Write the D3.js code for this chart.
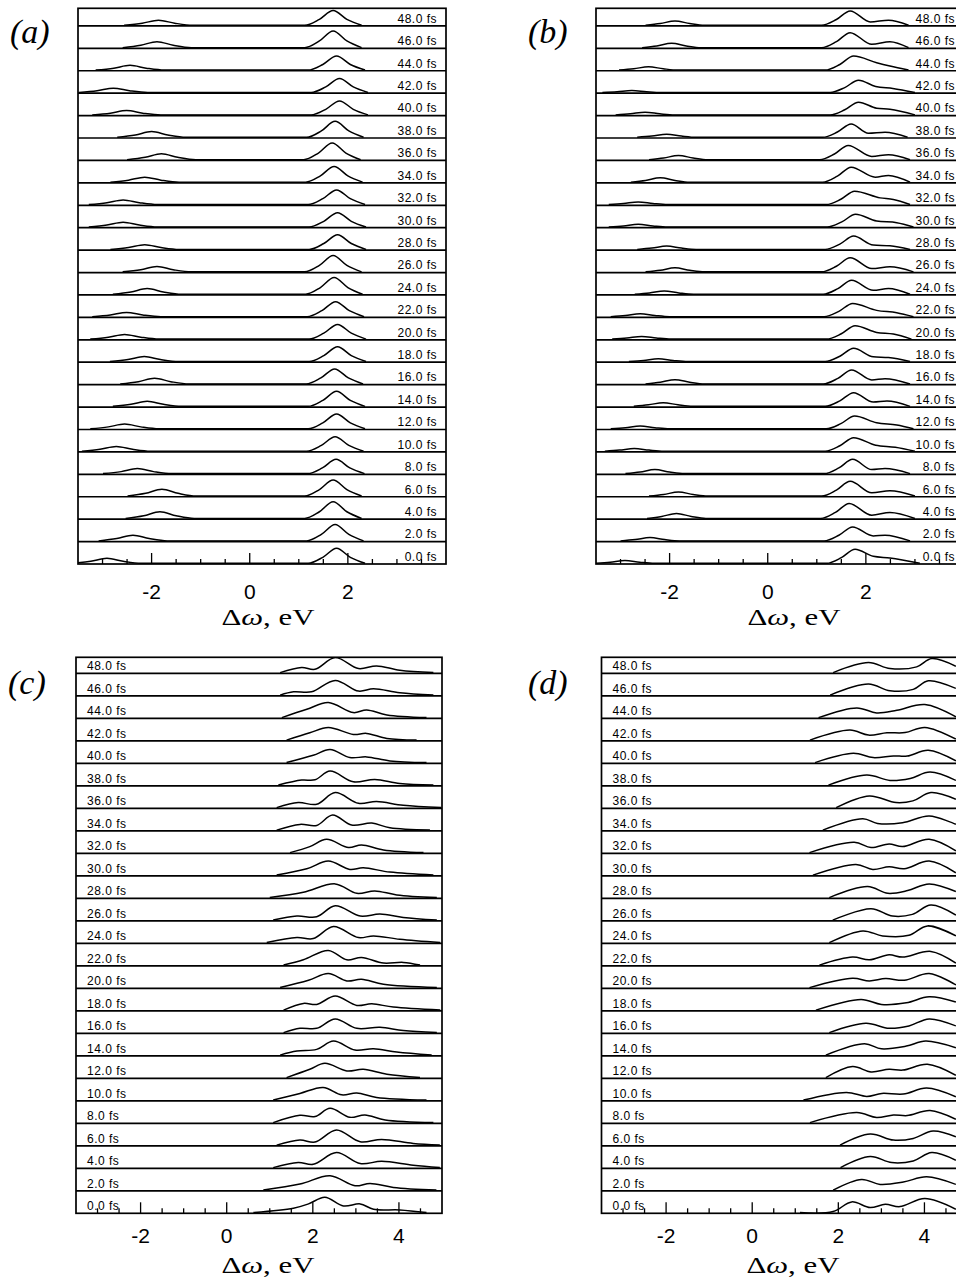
<!DOCTYPE html>
<html><head><meta charset="utf-8">
<script src="https://cdn.jsdelivr.net/npm/d3@7"></script>
<style>body{margin:0;background:#fff}svg{display:block}</style>
</head><body>
<svg id="chart" width="956" height="1281"></svg>
<script>
// ---------- data ----------
const times = [0,2,4,6,8,10,12,14,16,18,20,22,24,26,28,30,32,34,36,38,40,42,44,46,48];
const majorTicksAB = [-2,0,2];
const minorTicksAB = [-3,-2.5,-1.5,-1,-0.5,0.5,1,1.5,2.5,3,3.5];
const majorTicksCD = [-2,0,2,4];
const minorTicksCD = [-3,-2.5,-1.5,-1,-0.5,0.5,1,1.5,2.5,3,3.5,4.5];
const axisTitle = ["Δ","ω",", ","eV"];

// each spectrum: [Δω (eV), amplitude] key points, one per time (0 fs ... 48 fs)
const spectraA = [
 [[-3.61,0],[-3.24,2],[-2.91,5],[-2.58,2],[-2.21,0],[1.19,0],[1.49,6],[1.77,15],[2.05,6],[2.35,0]],
 [[-3.08,0],[-2.71,2.3],[-2.38,5.7],[-2.05,2.3],[-1.68,0],[1.16,0],[1.46,6.5],[1.74,16.3],[2.02,6.5],[2.32,0]],
 [[-2.53,0],[-2.16,2.7],[-1.83,6.7],[-1.50,2.7],[-1.13,0],[1.12,0],[1.42,6.7],[1.70,16.7],[1.98,6.7],[2.28,0]],
 [[-2.49,0],[-2.12,2.7],[-1.79,6.7],[-1.46,2.7],[-1.09,0],[1.12,0],[1.42,6.4],[1.70,16],[1.98,6.4],[2.28,0]],
 [[-2.99,0],[-2.62,2],[-2.29,5],[-1.96,2],[-1.59,0],[1.18,0],[1.48,5.7],[1.76,14.3],[2.04,5.7],[2.34,0]],
 [[-3.42,0],[-3.05,1.9],[-2.72,4.7],[-2.39,1.9],[-2.02,0],[1.16,0],[1.46,5.8],[1.74,14.5],[2.02,5.8],[2.32,0]],
 [[-3.25,0],[-2.88,1.9],[-2.55,4.7],[-2.22,1.9],[-1.85,0],[1.19,0],[1.49,5.9],[1.77,14.7],[2.05,5.9],[2.35,0]],
 [[-2.79,0],[-2.42,2],[-2.09,5],[-1.76,2],[-1.39,0],[1.19,0],[1.49,6],[1.77,15],[2.05,6],[2.35,0]],
 [[-2.64,0],[-2.27,2.3],[-1.94,5.7],[-1.61,2.3],[-1.24,0],[1.15,0],[1.45,6],[1.73,15],[2.01,6],[2.31,0]],
 [[-2.85,0],[-2.48,2],[-2.15,5],[-1.82,2],[-1.45,0],[1.21,0],[1.51,5.9],[1.79,14.7],[2.07,5.9],[2.37,0]],
 [[-3.25,0],[-2.88,1.9],[-2.55,4.7],[-2.22,1.9],[-1.85,0],[1.21,0],[1.51,5.9],[1.79,14.7],[2.07,5.9],[2.37,0]],
 [[-3.21,0],[-2.84,1.7],[-2.51,4.3],[-2.18,1.7],[-1.81,0],[1.17,0],[1.47,6],[1.75,15],[2.03,6],[2.33,0]],
 [[-2.79,0],[-2.42,2.3],[-2.09,5.7],[-1.76,2.3],[-1.39,0],[1.14,0],[1.44,6.7],[1.72,16.7],[2.00,6.7],[2.30,0]],
 [[-2.59,0],[-2.22,2.1],[-1.89,5.3],[-1.56,2.1],[-1.19,0],[1.12,0],[1.42,6.5],[1.70,16.3],[1.98,6.5],[2.28,0]],
 [[-2.84,0],[-2.47,1.9],[-2.14,4.7],[-1.81,1.9],[-1.44,0],[1.21,0],[1.51,5.9],[1.79,14.7],[2.07,5.9],[2.37,0]],
 [[-3.28,0],[-2.91,1.9],[-2.58,4.7],[-2.25,1.9],[-1.88,0],[1.21,0],[1.51,5.7],[1.79,14.3],[2.07,5.7],[2.37,0]],
 [[-3.28,0],[-2.91,1.9],[-2.58,4.7],[-2.25,1.9],[-1.88,0],[1.19,0],[1.49,5.9],[1.77,14.7],[2.05,5.9],[2.35,0]],
 [[-2.84,0],[-2.47,2],[-2.14,5],[-1.81,2],[-1.44,0],[1.14,0],[1.44,6.3],[1.72,15.7],[2.00,6.3],[2.30,0]],
 [[-2.50,0],[-2.13,2.4],[-1.80,6],[-1.47,2.4],[-1.10,0],[1.10,0],[1.40,6.7],[1.68,16.7],[1.96,6.7],[2.26,0]],
 [[-2.70,0],[-2.33,2.3],[-2.00,5.7],[-1.67,2.3],[-1.30,0],[1.16,0],[1.46,6.4],[1.74,16],[2.02,6.4],[2.32,0]],
 [[-3.21,0],[-2.84,1.7],[-2.51,4.3],[-2.18,1.7],[-1.81,0],[1.25,0],[1.55,5.6],[1.83,14],[2.11,5.6],[2.41,0]],
 [[-3.48,0],[-3.11,1.7],[-2.78,4.3],[-2.45,1.7],[-2.08,0],[1.25,0],[1.55,5.6],[1.83,14],[2.11,5.6],[2.41,0]],
 [[-3.14,0],[-2.77,1.9],[-2.44,4.7],[-2.11,1.9],[-1.74,0],[1.19,0],[1.49,5.6],[1.77,14],[2.05,5.6],[2.35,0]],
 [[-2.59,0],[-2.22,2.4],[-1.89,6],[-1.56,2.4],[-1.19,0],[1.12,0],[1.42,6.7],[1.70,16.7],[1.98,6.7],[2.28,0]],
 [[-2.56,0],[-2.19,2],[-1.86,5],[-1.53,2],[-1.16,0],[1.12,0],[1.42,5.9],[1.70,14.7],[1.98,5.9],[2.28,0]]
];
const spectraB = [
 [[-3.51,0],[-3.21,1.1],[-2.91,2.7],[-2.61,1.1],[-2.31,0],[1.20,0],[1.50,5.6],[1.78,14],[2.15,7],[2.49,5.3],[3.10,0]],
 [[-3.00,0],[-2.70,1.3],[-2.40,3.3],[-2.10,1.3],[-1.80,0],[1.15,0],[1.45,5.6],[1.73,14],[2.15,5],[2.39,5.7],[2.90,0]],
 [[-2.46,0],[-2.16,2],[-1.86,5],[-1.56,2],[-1.26,0],[1.08,0],[1.38,6],[1.66,15],[2.12,3.3],[2.49,6],[3.00,0]],
 [[-2.42,0],[-2.12,1.6],[-1.82,4],[-1.52,1.6],[-1.22,0],[1.10,0],[1.40,5.9],[1.68,14.7],[2.12,3.3],[2.49,5.3],[3.00,0]],
 [[-2.90,0],[-2.60,1.6],[-2.30,4],[-2.00,1.6],[-1.70,0],[1.15,0],[1.45,5.7],[1.73,14.3],[2.12,4],[2.39,5],[2.90,0]],
 [[-3.32,0],[-3.02,1.1],[-2.72,2.7],[-2.42,1.1],[-2.12,0],[1.17,0],[1.47,5.4],[1.75,13.5],[2.20,6],[2.60,4],[3.00,0]],
 [[-3.20,0],[-2.90,1.1],[-2.60,2.7],[-2.30,1.1],[-2.00,0],[1.19,0],[1.49,5.1],[1.77,12.7],[2.22,6],[2.63,3.7],[2.97,0]],
 [[-2.73,0],[-2.43,1.5],[-2.13,3.7],[-1.83,1.5],[-1.53,0],[1.17,0],[1.47,5.5],[1.75,13.7],[2.15,4.3],[2.43,5.3],[2.90,0]],
 [[-2.49,0],[-2.19,1.7],[-1.89,4.3],[-1.59,1.7],[-1.29,0],[1.13,0],[1.43,5.6],[1.71,14],[2.12,4],[2.39,5.3],[2.90,0]],
 [[-2.83,0],[-2.53,1.1],[-2.23,2.7],[-1.93,1.1],[-1.63,0],[1.17,0],[1.47,5.3],[1.75,13.3],[2.15,4.7],[2.46,4],[2.90,0]],
 [[-3.17,0],[-2.87,1.1],[-2.57,2.7],[-2.27,1.1],[-1.97,0],[1.20,0],[1.50,5.3],[1.78,13.3],[2.22,6.7],[2.56,5],[2.93,0]],
 [[-3.20,0],[-2.90,1.2],[-2.60,3],[-2.30,1.2],[-2.00,0],[1.15,0],[1.45,5.3],[1.73,13.3],[2.22,6.3],[2.63,4],[2.97,0]],
 [[-2.71,0],[-2.41,1.3],[-2.11,3.3],[-1.81,1.3],[-1.51,0],[1.13,0],[1.43,5.6],[1.71,14],[2.15,4],[2.46,5.7],[2.90,0]],
 [[-2.49,0],[-2.19,1.6],[-1.89,4],[-1.59,1.6],[-1.29,0],[1.10,0],[1.40,5.6],[1.68,14],[2.12,3.3],[2.49,5],[2.97,0]],
 [[-2.66,0],[-2.36,1.3],[-2.06,3.3],[-1.76,1.3],[-1.46,0],[1.17,0],[1.47,5.3],[1.75,13.3],[2.15,4.3],[2.49,3.7],[2.90,0]],
 [[-3.24,0],[-2.94,1.1],[-2.64,2.7],[-2.34,1.1],[-2.04,0],[1.21,0],[1.51,5.1],[1.79,12.7],[2.22,6],[2.63,4.3],[2.97,0]],
 [[-3.24,0],[-2.94,1.1],[-2.64,2.7],[-2.34,1.1],[-2.04,0],[1.19,0],[1.49,5.3],[1.77,13.3],[2.29,6.7],[2.56,5],[2.90,0]],
 [[-2.79,0],[-2.49,1.7],[-2.19,4.3],[-1.89,1.7],[-1.59,0],[1.12,0],[1.42,6],[1.70,15],[2.19,5],[2.46,6.7],[2.90,0]],
 [[-2.42,0],[-2.12,1.7],[-1.82,4.3],[-1.52,1.7],[-1.22,0],[1.06,0],[1.36,5.7],[1.64,14.3],[2.12,3.3],[2.46,5],[2.90,0]],
 [[-2.66,0],[-2.36,1.2],[-2.06,3],[-1.76,1.2],[-1.46,0],[1.12,0],[1.42,5.3],[1.70,13.3],[2.05,4],[2.39,5],[2.85,0]],
 [[-3.10,0],[-2.80,1.1],[-2.50,2.7],[-2.20,1.1],[-1.90,0],[1.27,0],[1.57,5.1],[1.85,12.7],[2.22,6.7],[2.49,5.7],[3.00,0]],
 [[-3.37,0],[-3.07,0.8],[-2.77,2],[-2.47,0.8],[-2.17,0],[1.27,0],[1.57,4.9],[1.85,12.3],[2.20,6],[2.55,4],[3.00,0]],
 [[-3.03,0],[-2.73,1.3],[-2.43,3.3],[-2.13,1.3],[-1.83,0],[1.17,0],[1.47,5.6],[1.75,14],[2.22,7.3],[2.49,4],[2.87,0]],
 [[-2.56,0],[-2.26,1.7],[-1.96,4.3],[-1.66,1.7],[-1.36,0],[1.10,0],[1.40,6],[1.68,15],[2.12,3.3],[2.49,6],[2.87,0]],
 [[-2.49,0],[-2.19,1.7],[-1.89,4.3],[-1.59,1.7],[-1.29,0],[1.10,0],[1.40,5.7],[1.68,14.3],[2.09,3.3],[2.46,5],[2.87,0]]
];
const spectraC = [
 [[0.62,0],[1.55,4.3],[1.90,8.7],[2.28,15.3],[2.71,6.7],[3.10,8.7],[3.41,3.3],[4.02,2.7],[4.64,0]],
 [[0.85,0],[1.70,6],[2.40,14.3],[2.98,4.3],[3.33,6.7],[3.87,2.7],[4.87,0]],
 [[1.08,0],[1.66,5],[2.01,3.3],[2.55,15],[3.10,4],[3.60,6.3],[4.33,2.3],[4.95,0]],
 [[1.16,0],[1.70,5],[2.05,3],[2.55,15],[3.10,3.3],[3.60,5.7],[4.33,1.7],[4.95,0]],
 [[1.08,0],[1.70,7.3],[2.05,6],[2.40,14.3],[2.86,5.3],[3.21,7.7],[3.68,2.7],[4.80,0]],
 [[1.08,0],[1.70,6.7],[2.24,12.7],[2.67,5.3],[3.02,7],[3.48,2.7],[4.64,0]],
 [[1.39,0],[1.93,8.3],[2.28,14.3],[2.79,6.7],[3.17,8.3],[3.72,3.3],[4.49,0]],
 [[1.24,0],[1.63,4],[2.09,5.7],[2.48,14],[2.98,5],[3.41,6.3],[3.95,3],[4.76,0]],
 [[1.32,0],[1.70,4.3],[2.09,4.3],[2.52,13.7],[3.02,4.3],[3.56,5.3],[4.10,2],[4.88,0]],
 [[1.32,0],[1.78,6.7],[2.09,5.7],[2.52,14],[3.02,4.7],[3.37,6.3],[3.87,3],[4.96,0]],
 [[1.24,0],[1.90,7.3],[2.36,14],[2.79,6.7],[3.13,8.3],[3.64,3.3],[4.88,0]],
 [[1.32,0],[1.78,5.3],[2.36,14.7],[2.79,5.3],[3.13,7.7],[3.64,2],[4.10,2.7],[4.49,0]],
 [[0.93,0],[1.63,5],[2.01,4],[2.48,16],[3.06,5],[3.41,6.7],[4.02,3.3],[4.96,0]],
 [[1.08,0],[1.63,4],[2.09,3.3],[2.52,14.3],[3.10,4],[3.56,6],[4.10,2.7],[4.88,0]],
 [[1.00,0],[1.78,5.3],[2.52,13.7],[3.02,4.3],[3.44,6.7],[3.95,2.7],[4.88,0]],
 [[1.16,0],[1.86,6.3],[2.36,14],[2.86,5.7],[3.17,7.3],[3.79,3],[4.80,0]],
 [[1.47,0],[1.93,6],[2.32,13.3],[2.83,5],[3.13,7.7],[3.64,2.7],[4.57,0]],
 [[1.16,0],[1.70,5.7],[2.09,4.7],[2.46,15],[2.90,5],[3.37,7],[3.79,2.3],[4.72,0]],
 [[1.16,0],[1.66,5],[2.09,3.3],[2.52,15],[3.06,4.3],[3.48,6],[4.10,2.3],[4.98,0]],
 [[1.20,0],[1.74,5],[2.05,5.3],[2.40,14],[2.94,3.3],[3.44,5.7],[4.02,1.7],[4.80,0]],
 [[1.39,0],[2.01,7.3],[2.40,13],[2.86,5],[3.25,5.7],[3.79,1.7],[4.64,0]],
 [[1.39,0],[1.93,7.3],[2.36,12.7],[2.94,5.7],[3.25,6.7],[3.72,1.7],[4.41,0]],
 [[1.28,0],[1.86,8.3],[2.36,15],[2.94,5],[3.25,7.7],[3.72,2.7],[4.64,0]],
 [[1.24,0],[1.55,3.3],[1.97,3.3],[2.52,14.7],[3.06,4],[3.41,6.3],[4.02,2.3],[4.80,0]],
 [[1.24,0],[1.74,5],[2.05,3.3],[2.52,15],[3.06,4],[3.48,6.7],[4.02,2.3],[4.80,0]]
];
const spectraD = [
 [[1.11,0],[1.88,1],[2.31,10.7],[2.74,5],[3.09,8.3],[3.43,6],[4.01,14],[4.73,3.3]],
 [[1.88,0],[2.54,10.7],[2.97,5.7],[3.51,8],[4.05,13.3],[4.73,5.7]],
 [[2.05,0],[2.74,11],[3.24,5],[3.74,6.7],[4.17,15],[4.73,7.3]],
 [[2.04,0],[2.74,11],[3.28,5],[3.74,6.7],[4.20,14],[4.73,8.3]],
 [[1.34,0],[2.43,10],[2.89,5],[3.28,7.7],[3.60,7],[4.13,12],[4.73,3.3]],
 [[1.19,0],[2.19,7.7],[2.66,3.7],[3.01,6.7],[3.51,6],[4.05,12],[4.73,3.3]],
 [[1.71,0],[2.33,11],[2.76,5.7],[3.18,8.3],[3.50,7.5],[4.07,13.3],[4.73,2.3]],
 [[1.71,0],[2.61,11.3],[3.00,6.3],[3.58,9],[4.03,14],[4.73,7.3]],
 [[1.79,0],[2.64,9.3],[3.18,4.3],[3.64,6.7],[4.11,13.7],[4.73,6.7]],
 [[1.48,0],[2.53,10.7],[3.00,5.7],[3.58,7.3],[4.11,13.3],[4.73,8]],
 [[1.33,0],[2.33,9.3],[2.72,6.7],[3.10,9],[3.53,7.3],[4.11,14],[4.73,2.7]],
 [[1.56,0],[2.33,8],[2.72,5.3],[3.18,10.3],[3.49,8],[4.15,13.7],[4.73,2]],
 [[1.79,0],[2.57,11.7],[3.03,6.7],[3.64,7.3],[4.07,16.7],[4.73,6.7]],
 [[1.87,0],[2.76,11.3],[3.26,4],[3.72,5.7],[4.15,15],[4.73,5]],
 [[1.79,0],[2.68,11],[3.15,4.3],[3.61,7],[4.11,13.7],[4.73,6]],
 [[1.41,0],[2.41,10.7],[2.80,5.7],[3.18,8.3],[3.53,6.3],[4.11,14],[4.73,2.3]],
 [[1.33,0],[2.37,10.3],[2.76,5],[3.18,8.7],[3.49,6],[4.11,13.3],[4.73,1.7]],
 [[1.64,0],[2.57,11.3],[2.91,6.7],[3.49,7.3],[4.11,14],[4.73,5.7]],
 [[1.95,0],[2.72,11.7],[3.34,5],[3.73,6.7],[4.15,15],[4.73,8.3]],
 [[1.77,0],[2.66,10],[3.20,4.7],[3.67,6.7],[4.13,13],[4.73,4.7]],
 [[1.46,0],[2.35,9.3],[2.81,5],[3.28,6.7],[3.60,6.5],[4.09,12.3],[4.73,1.7]],
 [[1.34,0],[2.27,10],[2.70,5],[3.13,7.3],[3.55,7.5],[4.01,12.7],[4.73,1]],
 [[1.54,0],[2.43,9.7],[2.89,4.7],[3.36,7.3],[4.01,13],[4.73,0.7]],
 [[1.81,0],[2.70,11],[3.20,4.3],[3.74,5.7],[4.09,14.3],[4.73,6.7]],
 [[1.88,0],[2.70,10],[3.20,4],[3.82,5.7],[4.17,14],[4.73,6.3]]
];

// ---------- layout ----------
const panels = [
 {letter:"(a)", data:spectraA, dom:[-3.5,4], x0:78, x1:446, top:8.3, bottom:564, step:22.42, side:"right", smooth:"mono",
  major:majorTicksAB, minor:minorTicksAB, titleX:268, titleY:625, tickY:599, letterX:10, letterY:43},
 {letter:"(b)", data:spectraB, dom:[-3.5,4], x0:596, x1:964, top:8.3, bottom:564, step:22.42, side:"right", smooth:"mono",
  major:majorTicksAB, minor:minorTicksAB, titleX:794, titleY:625, tickY:599, letterX:528, letterY:43},
 {letter:"(c)", data:spectraC, dom:[-3.5,5], x0:76, x1:442, top:657.3, bottom:1213.3, step:22.5, side:"left", smooth:"cr",
  major:majorTicksCD, minor:minorTicksCD, titleX:268, titleY:1273, tickY:1243, letterX:8, letterY:694},
 {letter:"(d)", data:spectraD, dom:[-3.5,5], x0:601.5, x1:967.5, top:657.3, bottom:1213.3, step:22.5, side:"left", smooth:"cr",
  major:majorTicksCD, minor:minorTicksCD, titleX:793, titleY:1273, tickY:1243, letterX:528, letterY:694}
];

const svg = d3.select("#chart");
const sans = "'Liberation Sans', Arial, Helvetica, sans-serif";
const serif = "'Liberation Serif', 'Times New Roman', serif";

panels.forEach((p, pi) => {
  const g = svg.append("g");
  const x = d3.scaleLinear().domain(p.dom).range([p.x0, p.x1]);
  const y = d3.scaleLinear().domain([0, 48]).range([p.bottom, p.bottom - 24 * p.step]);
  const amp = d3.scaleLinear().domain([0, 10]).range([0, 10]);

  const clipId = "clip" + pi;
  svg.append("clipPath").attr("id", clipId).append("rect")
    .attr("x", p.x0).attr("y", p.top).attr("width", p.x1 - p.x0).attr("height", p.bottom - p.top);

  // dividers
  g.selectAll("line.div").data(times.filter(t => t > 0)).join("line")
    .attr("x1", p.x0).attr("x2", p.x1)
    .attr("y1", d => y(d)).attr("y2", d => y(d))
    .attr("stroke", "#000").attr("stroke-width", 1.7);

  // spectra
  const curveType = p.smooth === "mono" ? d3.curveMonotoneX : d3.curveCatmullRom.alpha(0.5);
  const curves = g.append("g").attr("clip-path", `url(#${clipId})`);
  p.data.forEach((pts, i) => {
    const base = y(times[i]) - 0.7;
    const line = d3.line().x(d => x(d[0])).y(d => base - amp(d[1])).curve(curveType);
    curves.append("path").attr("d", line(pts))
      .attr("fill", "none").attr("stroke", "#000").attr("stroke-width", 1.5)
      .attr("stroke-linejoin", "round");
  });

  // time labels
  g.selectAll("text.tl").data(times).join("text")
    .attr("x", p.side === "right" ? p.x1 - 9 : p.x0 + 11)
    .attr("y", d => y(d) - 3.2)
    .attr("text-anchor", p.side === "right" ? "end" : "start")
    .attr("font-family", sans).attr("font-size", 12).attr("letter-spacing", 0.5)
    .text(d => d.toFixed(1) + " fs");

  // frame
  g.append("rect").attr("x", p.x0).attr("y", p.top)
    .attr("width", p.x1 - p.x0).attr("height", p.bottom - p.top)
    .attr("fill", "none").attr("stroke", "#000").attr("stroke-width", 1.7);

  // ticks (inside, pointing up)
  g.selectAll("line.minor").data(p.minor).join("line")
    .attr("x1", d => x(d)).attr("x2", d => x(d))
    .attr("y1", p.bottom).attr("y2", p.bottom - 5)
    .attr("stroke", "#000").attr("stroke-width", 1.3);
  g.selectAll("line.major").data(p.major).join("line")
    .attr("x1", d => x(d)).attr("x2", d => x(d))
    .attr("y1", p.bottom).attr("y2", p.bottom - 11)
    .attr("stroke", "#000").attr("stroke-width", 1.3);
  g.selectAll("text.tick").data(p.major).join("text")
    .attr("x", d => x(d)).attr("y", p.tickY)
    .attr("text-anchor", "middle")
    .attr("font-family", sans).attr("font-size", 21)
    .text(d => d < 0 ? "-" + Math.abs(d) : String(d));

  // axis title
  const t = g.append("text").attr("x", p.titleX).attr("y", p.titleY)
    .attr("text-anchor", "middle").attr("font-family", serif).attr("font-size", 23)
    .attr("textLength", 93).attr("lengthAdjust", "spacingAndGlyphs");
  t.append("tspan").text(axisTitle[0]);
  t.append("tspan").attr("font-style", "italic").text(axisTitle[1]);
  t.append("tspan").text(axisTitle[2]);
  t.append("tspan").text(axisTitle[3]);

  // panel letter
  g.append("text").attr("x", p.letterX).attr("y", p.letterY)
    .attr("font-family", serif).attr("font-style", "italic").attr("font-size", 34)
    .text(p.letter);
});
</script>
</body></html>
